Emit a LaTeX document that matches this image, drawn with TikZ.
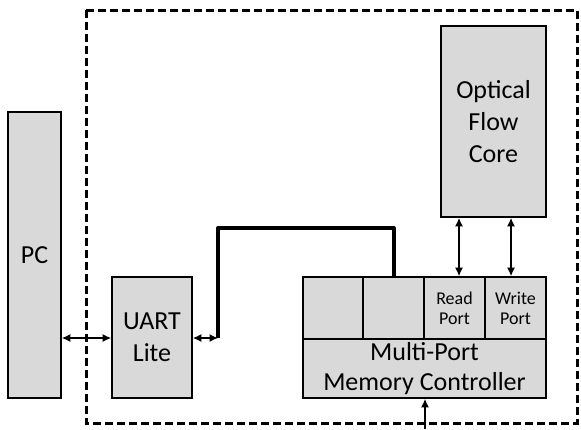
\documentclass[tikz,border=0pt]{standalone}
\usepackage{fontspec}
\setmainfont{Carlito}
\usetikzlibrary{arrows.meta}
\definecolor{boxgray}{HTML}{D9D9D9}
\begin{document}
\begin{tikzpicture}[x=1pt,y=-1pt,
  blk/.style={draw=black,line width=1.6pt,fill=boxgray,inner sep=0pt,align=center,
    font=\fontsize{26}{32}\selectfont},
  port/.style={blk,font=\fontsize{18}{20}\selectfont},
  conn/.style={line width=1.4pt,{Latex[length=8.5pt,width=8pt]}-{Latex[length=8.5pt,width=8pt]}},
  bus/.style={line width=4pt},
  frame/.style={line width=3pt,dash pattern=on 8pt off 4pt}]
\useasboundingbox (0,0) rectangle (581,429);
% frame
\draw[frame] (86,10) rectangle (577,423);
% blocks
\node[blk,minimum width=53pt,minimum height=286pt] (pc) at (34.5,255) {PC};
\node[blk,minimum width=80pt,minimum height=121pt] (uart) at (152,337.5) {UART\\Lite};
\node[blk,minimum width=105pt,minimum height=191pt] (ofc) at (493.5,121.5) {Optical\\Flow\\Core};
\node[blk,minimum width=243pt,minimum height=59pt,font=\fontsize{26}{30}\selectfont] (mpmc) at (424.5,368.5) {Multi-Port\\Memory Controller};
\node[blk,minimum width=60pt,minimum height=62pt] (c1) at (333,308) {};
\node[blk,minimum width=61pt,minimum height=62pt] (c2) at (393.5,308) {};
\node[port,minimum width=61pt,minimum height=62pt] (rp) at (454.5,308) {Read\\Port};
\node[port,minimum width=61pt,minimum height=62pt] (wp) at (515.5,308) {Write\\Port};
% connectors
\draw[conn] (pc.east |- 0,338) -- (uart.west |- 0,338);
\coordinate (j) at (218,338);
\coordinate (bin) at (425,429);
\draw[conn] (uart.east |- j) -- (j);
\draw[bus,line join=round] (j) -- (218,228) -- (c2.north |- 0,228) -- (c2.north);
\draw[conn] (ofc.south -| 459,0) -- (rp.north -| 459,0);
\draw[conn] (ofc.south -| 511,0) -- (wp.north -| 511,0);
\draw[line width=1.4pt,-{Latex[length=8.5pt,width=8pt]}] (bin) -- (mpmc.south -| bin);
\end{tikzpicture}
\end{document}
